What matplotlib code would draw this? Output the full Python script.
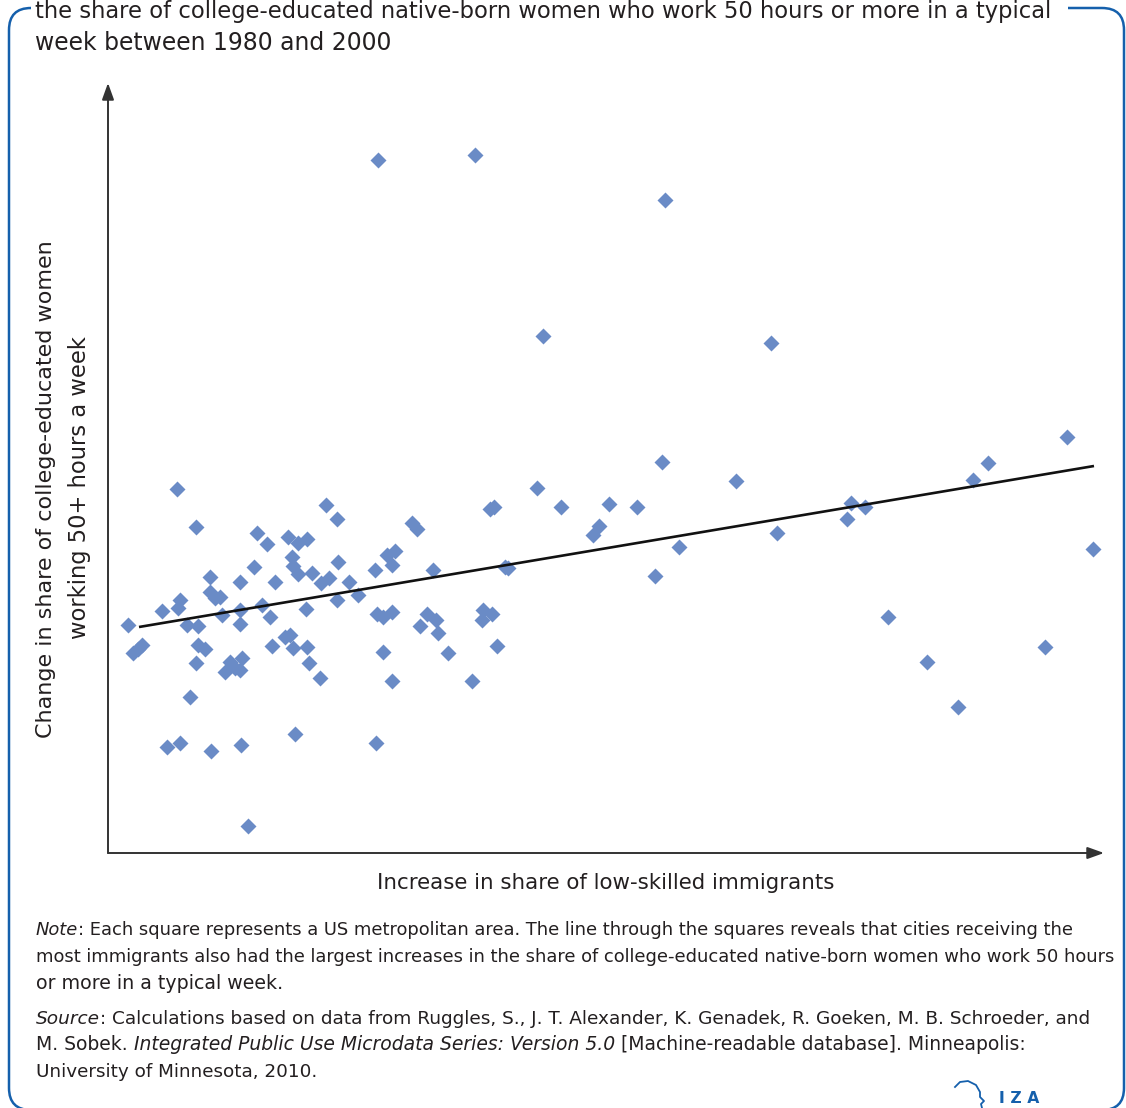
import numpy as np
import matplotlib
matplotlib.use("Agg")
import matplotlib.pyplot as plt
from matplotlib.transforms import IdentityTransform
from matplotlib.patches import FancyBboxPatch, Rectangle
from matplotlib.lines import Line2D

# ---------------- data (arbitrary units) ----------------
immigrant_increase = [
    2.0, 2.5, 3.0, 3.4, 5.4, 6.9, 7.2, 7.0, 7.9, 9.0, 8.8, 9.0, 9.7, 8.8, 8.2,
    10.2, 10.2, 10.7, 11.2, 11.4, 11.7, 12.2, 12.7, 13.2, 13.2, 13.2, 13.4, 13.2,
    14.6, 14.9, 15.9, 15.4, 16.2, 16.7, 16.4, 17.7, 18.2, 18.0, 18.4, 18.5, 19.0,
    19.0, 19.9, 18.5, 19.9, 19.8, 20.1, 20.4, 21.3, 22.1, 21.2, 21.8, 22.9, 23.0,
    22.9, 24.1, 25.0, 5.9, 7.2, 10.3, 13.3, 18.7, 14.0,
    26.7, 27.9, 28.7, 28.4, 30.4, 30.9, 32.5, 26.9, 27.5, 28.4, 31.9, 32.8, 31.2,
    33.0, 34.0, 27.5, 28.4, 26.8, 36.4, 37.5, 38.4, 37.4, 38.9, 38.2, 38.6, 39.7,
    40.0, 42.9, 45.3, 27.0, 36.7, 43.5,
    55.7, 66.3, 55.4, 62.8, 50.1, 52.9, 49.1, 48.5, 57.1, 54.7, 66.9, 73.9, 74.3,
    75.7, 78.0, 81.9, 85.0, 86.5, 88.0, 95.9, 98.5, 93.7,
]
women_50h_change = [
    22.8, 20.0, 20.4, 20.8, 24.2, 36.4, 25.3, 24.5, 22.8, 22.7, 32.6, 20.8, 20.4, 19.0, 15.6,
    27.6, 26.1, 25.5, 25.6, 23.8, 18.1, 19.1, 18.5, 27.1, 24.3, 22.9, 19.5, 18.3,
    28.6, 32.0, 30.9, 24.8, 23.6, 27.1, 20.7, 21.6, 21.8, 31.6, 29.6, 28.7, 27.9,
    31.0, 31.4, 20.5, 20.6, 24.4, 19.0, 28.0, 27.0, 27.5, 17.5, 34.8, 33.4, 29.1,
    25.3, 27.1, 25.8, 10.6, 11.0, 10.2, 10.8, 11.9, 2.7,
    28.3, 29.8, 30.2, 28.8, 33.0, 32.4, 28.3, 23.9, 23.6, 24.1, 23.9, 23.3, 22.7,
    22.0, 20.0, 20.1, 17.2, 11.0, 17.2, 24.3, 23.9, 23.3, 20.7, 34.4, 34.6, 28.6,
    28.5, 36.5, 34.6, 69.3, 69.8, 51.7,
    65.3, 51.0, 39.1, 37.2, 34.9, 34.6, 32.7, 31.8, 30.6, 27.7, 32.0, 33.4, 35.0,
    34.6, 23.6, 19.1, 14.6, 37.3, 39.0, 41.6, 30.4, 20.6,
]
trend_x = [3.1, 98.6]
trend_y = [22.6, 38.7]

title_lines = [
    "the share of college-educated native-born women who work 50 hours or more in a typical",
    "week between 1980 and 2000",
]
xlabel = "Increase in share of low-skilled immigrants"
ylabel_lines = ["Change in share of college-educated women", "working 50+ hours a week"]

note_lines = [
    [("Note", "italic"), (": Each square represents a US metropolitan area. The line "
                          "through the squares reveals that cities receiving the", "normal")],
    [("most immigrants also had the largest increases in the share of college-educated "
      "native-born women who work 50 hours", "normal")],
    [("or more in a typical week.", "normal")],
    [("Source", "italic"), (": Calculations based on data from Ruggles, S., J. T. Alexander, "
                            "K. Genadek, R. Goeken, M. B. Schroeder, and", "normal")],
    [("M. Sobek.", "normal"), (" ", None),
     ("Integrated Public Use Microdata Series: Version 5.0", "italic"), (" ", None),
     ("[Machine-readable database]. Minneapolis:", "normal")],
    [("University of Minnesota, 2010.", "normal")],
]

# ---------------- layout (pixels, top-left origin) ----------------
W, H = 1126, 1108
TXT = "#231F20"
BLUE = "#1560AC"
PT = "#6A8BC6"
title_pos = [(35, 18, 1022), (35, 50, 358)]
note_pos = [(36, 935, 1041), (36, 962, 1084), (36, 989, 262),
            (36, 1024, 1057), (36, 1050, 992), (36, 1077, 282)]

fig = plt.figure(figsize=(W / 100, H / 100), dpi=100)
renderer = fig.canvas.get_renderer()


def fx(x):
    return x / W


def fy(y):
    return 1 - y / H


def width_of(s, size, fam, style="normal", weight="normal"):
    t = fig.text(0, 0, s, fontsize=size, family=fam, style=style, fontweight=weight)
    w = t.get_window_extent(renderer).width
    t.remove()
    return w


def parts_width(parts, size, fam):
    sp = width_of("a a", size, fam) - width_of("aa", size, fam)
    tot = 0
    for text, style in parts:
        tot += sp if text == " " else width_of(text, size, fam, style)
    return tot


# choose the installed family whose proportions best match the reference line widths
candidates = ["Open Sans", "Lato", "Noto Sans", "Liberation Sans", "DejaVu Sans",
              "Roboto", "Inter"]
best, best_score = None, 1e9
for c in candidates:
    fam = [c, "DejaVu Sans"]
    try:
        r_note = [np.log(p[2] / parts_width(l, 14, fam)) for l, p in zip(note_lines, note_pos)]
        r_tit = [np.log(p[2] / width_of(l, 14, fam)) for l, p in zip(title_lines, title_pos)]
    except Exception:
        continue
    score = np.var(r_note) * len(r_note) + np.var(r_tit) * len(r_tit)
    if score < best_score:
        best, best_score = c, score
FONT = [best, "DejaVu Sans"]


def put(x, y, s, size, ha="left", va="baseline", style="normal", **kw):
    return fig.text(fx(x), fy(y), s, fontsize=size, ha=ha, va=va, family=FONT,
                    color=TXT, style=style, **kw)


def fit(s, target, style="normal"):
    return 14 * target / width_of(s, 14, FONT, style)


def runs(x, y, parts, size):
    sp = width_of("a a", size, FONT) - width_of("aa", size, FONT)
    for text, style in parts:
        if text == " ":
            x += sp
            continue
        t = put(x, y, text, size, style=style)
        x += t.get_window_extent(renderer).width


def group_sizes(raw, tol=0.03):
    base = float(np.median(raw))
    return [base * float(np.clip(r / base, 1 - tol, 1 + tol)) for r in raw]


# axes
ax_left, ax_right, ax_top, ax_bottom = 108, 1104, 83, 853
ax = fig.add_axes([fx(ax_left), fy(ax_bottom), (ax_right - ax_left) / W,
                   (ax_bottom - ax_top) / H])
ax.set_xlim(0, (ax_right - ax_left) / 10)
ax.set_ylim(0, (ax_bottom - ax_top) / 10)
for sp_ in ax.spines.values():
    sp_.set_visible(False)
ax.set_xticks([])
ax.set_yticks([])
ax.patch.set_alpha(0)

ax.plot(immigrant_increase, women_50h_change, ls="none", marker="D", ms=8.2,
        color=PT, mec="none", zorder=2, clip_on=False)
ax.plot(trend_x, trend_y, color="#111111", lw=1.9, zorder=3, solid_capstyle="butt")

arrow_kw = dict(arrowstyle="-|>,head_length=0.5,head_width=0.18", color="#333333",
                lw=1.4, shrinkA=0, shrinkB=0, mutation_scale=20)
ax.annotate("", xy=(1, 0), xytext=(0, 0), xycoords="axes fraction",
            arrowprops=arrow_kw, annotation_clip=False)
ax.annotate("", xy=(0, 1), xytext=(0, 0), xycoords="axes fraction",
            arrowprops=arrow_kw, annotation_clip=False)

# frame
frame = FancyBboxPatch((9, -2), 1115, H - 8 + 2, boxstyle="round,pad=0,rounding_size=22",
                       transform=IdentityTransform(), fill=False, ec=BLUE, lw=1.8,
                       zorder=0)
fig.patches.append(frame)
fig.patches.append(Rectangle((31, H - 22), 1068 - 31, 22, transform=IdentityTransform(),
                             fc="white", ec="none", zorder=0.5))

# title
t_sizes = group_sizes([fit(s, p[2]) for s, p in zip(title_lines, title_pos)])
for s, (x, y, w), sz in zip(title_lines, title_pos, t_sizes):
    put(x, y, s, sz)

# axis labels
put(606, 889, xlabel, fit(xlabel, 459), ha="center")
put(46, 489, ylabel_lines[0], fit(ylabel_lines[0], 498), ha="center", va="center",
    rotation=90)
put(80, 488, ylabel_lines[1], fit(ylabel_lines[1], 305), ha="center", va="center",
    rotation=90)

# note and source
n_sizes = group_sizes([14 * p[2] / parts_width(l, 14, FONT) for l, p in zip(note_lines, note_pos)])
for parts, (x, y, w), sz in zip(note_lines, note_pos, n_sizes):
    runs(x, y, parts, sz)

# IZA logo
head = [(955, 1087), (960, 1082), (968, 1081), (976, 1085), (980, 1092),
        (980, 1097), (984, 1101), (981, 1104), (982, 1108)]
fig.lines.append(Line2D([fx(p[0]) for p in head], [fy(p[1]) for p in head],
                        transform=fig.transFigure, color=BLUE, lw=1.3))
iza = "I Z A"
fig.text(fx(1019), fy(1103), iza, fontsize=14 * 40 / width_of(iza, 14, FONT, weight="bold"),
         fontweight="bold", color=BLUE, ha="center", va="baseline", family=FONT)

fig.savefig("out.png", dpi=100, facecolor="white")
